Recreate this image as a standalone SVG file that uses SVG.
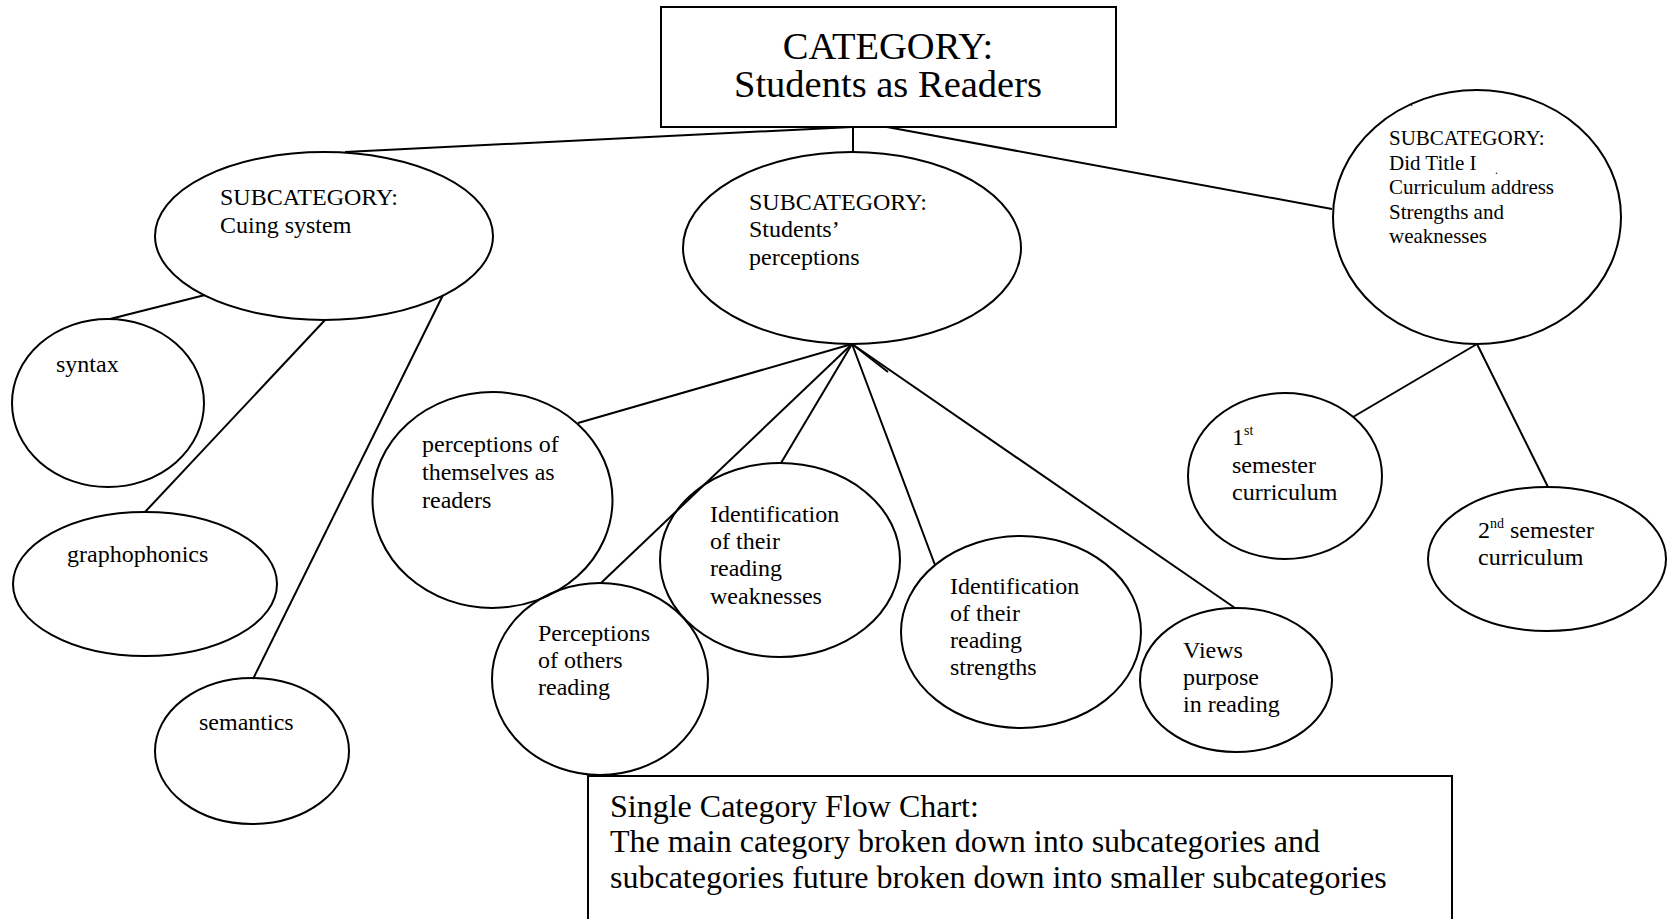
<svg xmlns="http://www.w3.org/2000/svg" width="1667" height="919" viewBox="0 0 1667 919">
<style>
.bg{fill:#fff}
.n{fill:none;stroke:#000;stroke-width:2}
.c line{stroke:#000;stroke-width:2;fill:none}
text{font-family:"Liberation Serif","Times New Roman",serif;fill:#000}
.t24{font-size:24px}
.t21{font-size:21px}
.t38{font-size:38.5px}
.t32{font-size:32px}
.sup{font-size:14px}
</style>
<rect class="bg" x="0" y="0" width="1667" height="919"/>
<g id="connectors" class="c">
<line x1="852" y1="127" x2="345" y2="152"/>
<line x1="853" y1="127" x2="853" y2="152"/>
<line x1="887" y1="127" x2="1332" y2="209"/>
<line x1="205" y1="295" x2="110" y2="319"/>
<line x1="325" y1="320" x2="145" y2="512"/>
<line x1="443" y1="295" x2="253" y2="679"/>
<line x1="852" y1="344" x2="578" y2="423"/>
<line x1="852" y1="344" x2="601" y2="583"/>
<line x1="852" y1="344" x2="781" y2="463"/>
<line x1="852" y1="344" x2="935" y2="565"/>
<line x1="852" y1="344" x2="888" y2="372"/>
<line x1="852" y1="344" x2="1235" y2="608"/>
<line x1="1477" y1="344" x2="1353" y2="417"/>
<line x1="1477" y1="344" x2="1548" y2="487"/>
</g>
<g id="category">
<rect class="n" x="661" y="7" width="455" height="120"/>
<text class="t38" x="888" y="59" text-anchor="middle">CATEGORY:</text>
<text class="t38" x="888" y="97" text-anchor="middle">Students as Readers</text>
</g>
<g id="sub-cuing">
<ellipse class="n" cx="324" cy="236" rx="169" ry="84"/>
<text class="t24" x="220" y="205">SUBCATEGORY:</text>
<text class="t24" x="220" y="233">Cuing system</text>
</g>
<g id="sub-perceptions">
<ellipse class="n" cx="852" cy="248" rx="169" ry="96"/>
<text class="t24" x="749" y="210">SUBCATEGORY:</text>
<text class="t24" x="749" y="237">Students’</text>
<text class="t24" x="749" y="265">perceptions</text>
</g>
<g id="sub-title1">
<ellipse class="n" cx="1477" cy="217" rx="144" ry="127"/>
<text class="t21" x="1389" y="145">SUBCATEGORY:</text>
<text class="t21" x="1389" y="170">Did Title I</text>
<text class="t21" x="1389" y="194">Curriculum address</text>
<text class="t21" x="1389" y="219">Strengths and</text>
<text class="t21" x="1389" y="243">weaknesses</text>
<text x="1410" y="106" style="font-size:12px">.</text>
<text x="1495" y="174" style="font-size:12px">.</text>
</g>
<g id="syntax">
<ellipse class="n" cx="108" cy="403" rx="96" ry="84"/>
<text class="t24" x="56" y="372">syntax</text>
</g>
<g id="graphophonics">
<ellipse class="n" cx="145" cy="584" rx="132" ry="72"/>
<text class="t24" x="67" y="562">graphophonics</text>
</g>
<g id="semantics">
<ellipse class="n" cx="252" cy="751" rx="97" ry="73"/>
<text class="t24" x="199" y="730">semantics</text>
</g>
<g id="themselves">
<ellipse class="n" cx="492.5" cy="500" rx="120" ry="108"/>
<text class="t24" x="422" y="452">perceptions of</text>
<text class="t24" x="422" y="480">themselves as</text>
<text class="t24" x="422" y="508">readers</text>
</g>
<g id="others">
<ellipse class="n" cx="600" cy="679" rx="108" ry="96"/>
<text class="t24" x="538" y="641">Perceptions</text>
<text class="t24" x="538" y="668">of others</text>
<text class="t24" x="538" y="695">reading</text>
</g>
<g id="weaknesses">
<ellipse class="n" cx="780" cy="560" rx="120" ry="97"/>
<text class="t24" x="710" y="522">Identification</text>
<text class="t24" x="710" y="549">of their</text>
<text class="t24" x="710" y="576">reading</text>
<text class="t24" x="710" y="604">weaknesses</text>
</g>
<g id="strengths">
<ellipse class="n" cx="1021" cy="632" rx="120" ry="96"/>
<text class="t24" x="950" y="594">Identification</text>
<text class="t24" x="950" y="621">of their</text>
<text class="t24" x="950" y="648">reading</text>
<text class="t24" x="950" y="675">strengths</text>
</g>
<g id="views">
<ellipse class="n" cx="1236" cy="680" rx="96" ry="72"/>
<text class="t24" x="1183" y="658">Views</text>
<text class="t24" x="1183" y="685">purpose</text>
<text class="t24" x="1183" y="712">in reading</text>
</g>
<g id="sem1">
<ellipse class="n" cx="1285" cy="476" rx="97" ry="83"/>
<text class="t24" x="1232" y="445">1<tspan class="sup" dy="-10">st</tspan></text>
<text class="t24" x="1232" y="473">semester</text>
<text class="t24" x="1232" y="500">curriculum</text>
</g>
<g id="sem2">
<ellipse class="n" cx="1547" cy="559" rx="119" ry="72"/>
<text class="t24" x="1478" y="538">2<tspan class="sup" dy="-10">nd</tspan><tspan dy="10"> semester</tspan></text>
<text class="t24" x="1478" y="565">curriculum</text>
</g>
<g id="caption">
<path class="n" d="M588,919 V776 H1452 V919"/>
<text class="t32" x="610" y="817">Single Category Flow Chart:</text>
<text class="t32" x="610" y="852">The main category broken down into subcategories and</text>
<text class="t32" x="610" y="888">subcategories future broken down into smaller subcategories</text>
</g>
</svg>
